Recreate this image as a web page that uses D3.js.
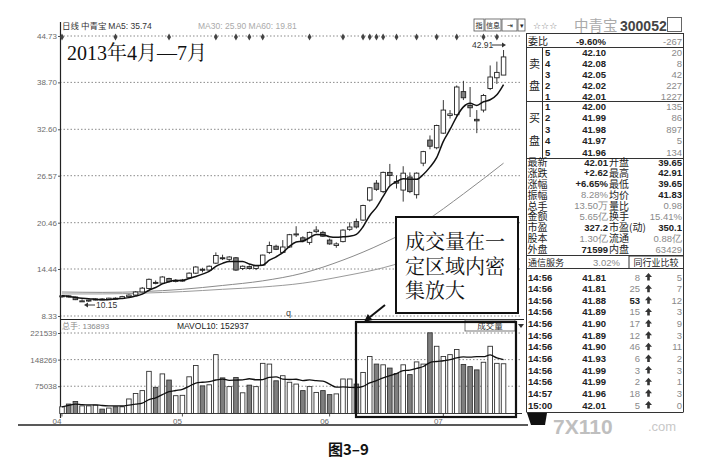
<!DOCTYPE html>
<html>
<head>
<meta charset="utf-8">
<script src="https://cdn.jsdelivr.net/npm/d3@7"></script>
<style>
  body { margin: 0; background: #fff; }
  svg { display: block; }
</style>
</head>
<body>
<div id="chart"></div>
<script>
// daily K-line, 300052 中青宝, Apr-Jul 2013
const opens  = [10.85,10.95,10.80,10.25,10.30,10.40,10.55,10.45,10.65,10.60,10.85,11.05,11.45,11.90,12.70,12.60,13.20,12.85,12.95,13.30,
                13.90,14.40,14.30,15.20,15.90,15.70,15.90,14.50,14.75,14.50,14.95,16.60,17.40,16.60,17.30,18.90,18.50,17.90,19.30,19.20,
                18.20,17.50,18.00,19.60,20.60,20.80,23.40,25.60,24.50,27.00,25.80,24.70,26.40,24.10,28.20,31.20,30.20,32.10,34.40,34.50,
                37.50,35.70,33.90,35.10,37.90,39.30,39.65];
const highs  = [11.05,11.00,10.85,10.50,10.45,10.60,10.65,10.70,10.75,10.95,11.15,11.55,12.10,13.20,12.95,13.50,13.30,13.10,13.15,14.00,
                14.80,14.60,14.90,16.60,16.30,16.10,16.00,14.90,14.90,14.95,16.30,18.00,17.60,18.20,19.00,20.00,18.70,19.30,20.00,19.40,
                18.40,17.90,19.60,20.50,21.00,22.80,25.10,26.00,27.10,28.10,26.60,27.80,27.00,27.00,29.80,31.80,33.20,36.40,35.10,38.30,
                38.90,38.10,35.10,37.20,40.90,41.40,42.91];
const lows   = [10.70,10.75,10.40,10.20,10.15,10.35,10.40,10.40,10.50,10.55,10.80,11.00,11.40,11.85,12.45,12.50,12.70,12.70,12.80,13.20,
                13.80,14.00,14.20,15.10,15.60,15.40,14.20,14.30,14.40,14.30,14.90,16.40,16.90,16.50,17.20,18.60,17.90,17.60,19.10,18.60,
                17.60,17.20,17.90,19.40,19.70,20.70,23.20,24.60,24.30,25.30,24.90,23.20,24.30,23.60,27.80,30.00,30.00,32.00,34.00,34.30,
                36.40,34.20,32.10,34.80,37.70,38.50,39.65];
const closes = [10.95,10.80,10.45,10.30,10.40,10.55,10.45,10.65,10.60,10.85,11.05,11.45,11.95,13.10,12.60,13.40,12.80,12.95,13.00,13.90,
                14.70,14.30,14.80,16.20,15.85,16.00,14.30,14.80,14.50,14.85,16.25,17.50,17.00,17.30,18.90,19.00,18.10,19.20,19.50,18.70,
                17.70,17.70,19.50,19.90,19.90,22.70,25.00,24.80,27.00,26.60,25.60,26.90,24.50,26.90,29.70,30.40,33.10,35.10,34.60,38.10,
                36.70,35.40,33.70,37.00,39.40,40.00,42.01];
const volumes = [18500,26000,33000,21000,21000,23000,12000,15000,18500,18500,40000,55000,63000,116000,72000,109000,92000,49000,50000,101000,
                 132000,76000,79000,162000,98000,74000,99000,57000,78000,74000,138000,136000,90000,104000,86000,81000,63000,74000,58000,63000,
                 52000,54000,95000,95000,81000,113000,157000,136000,134000,125000,110000,134000,107000,142000,136000,222000,185000,157000,162000,176000,
                 135000,129000,120000,141000,185000,138000,136900];

// MA30 / MA60 read at every sixth day
const maIdx  = [0, 6, 12, 18, 24, 30, 36, 42, 48, 54, 60, 66];
const ma30   = [11.45, 11.40, 11.50, 11.80, 12.30, 12.90, 13.90, 15.60, 17.80, 20.50, 24.20, 28.20];
const ma60   = [11.20, 11.20, 11.30, 11.50, 11.80, 12.10, 12.60, 13.50, 14.60, 16.20, 18.10, 20.20];

const markIdx = [0, 8, 16, 23, 26, 28, 30, 37, 42, 45, 46, 47, 48, 50, 53, 56, 59, 63, 65];
const monthIdx = [0, 18, 40, 57];
const monthLabels = ["04", "05", "06", "07"];
const priceTicks = [44.73, 38.70, 32.60, 26.57, 20.46, 14.44, 8.33];
const volTicks = [221539, 148269, 75038];

// quote panel
const sellLevels = ["5", "4", "3", "2", "1"];
const sellPrices = ["42.10", "42.08", "42.05", "42.02", "42.01"];
const sellVols = ["20", "8", "42", "227", "1227"];
const buyLevels = ["1", "2", "3", "4", "5"];
const buyPrices = ["42.00", "41.99", "41.98", "41.97", "41.96"];
const buyVols = ["135", "86", "897", "5", "134"];
const statLabels1 = ["最新", "涨跌", "涨幅", "振幅", "总手", "金额", "市盈", "股本", "外盘"];
const statValues1 = ["42.01", "+2.62", "+6.65%", "8.28%", "13.50万", "5.65亿", "327.2", "1.30亿", "71599"];
const statLabels2 = ["开盘", "最高", "最低", "均价", "量比", "换手", "市盈(动)", "流通", "内盘"];
const statValues2 = ["39.65", "42.91", "39.65", "41.83", "0.98", "15.41%", "350.1", "0.88亿", "63429"];
const statLight1 = [false, false, false, true, true, true, false, true, false];
const statLight2 = [false, false, false, false, true, true, false, true, true];
const tradeTimes = ["14:56","14:56","14:56","14:56","14:56","14:56","14:56","14:56","14:56","14:56","14:57","15:00"];
const tradePrices = ["41.81","41.81","41.88","41.89","41.90","41.89","41.90","41.93","41.99","41.99","41.96","42.01"];
const tradeVols = ["8","25","53","15","17","12","46","6","3","2","18","5"];
const tradeCounts = ["5","7","12","3","9","3","11","2","3","1","3","0"];

const W = 727, H = 466;
const SANS = "'Liberation Sans', Arial, sans-serif";
const CJK = "'Noto Sans CJK SC', 'Noto Sans', sans-serif";

const svg = d3.select("#chart").append("svg")
  .attr("width", W).attr("height", H)
  .style("font-family", SANS);

const n = closes.length;
const days = d3.range(n);
const x = d3.scaleBand().domain(days).range([58.65, 506.9]).paddingInner(0.32).paddingOuter(0.16);
const cx = i => x(i) + x.bandwidth() / 2;
const y = d3.scaleLinear().domain([8.33, 44.73]).range([316, 36]);
const yv = d3.scaleLinear().domain([0, 221539]).range([413.5, 333]);

// ---------- grid ----------
svg.append("g").selectAll("line").data(priceTicks).join("line")
  .attr("x1", 60).attr("x2", 522)
  .attr("y1", d => y(d)).attr("y2", d => y(d))
  .attr("stroke", "#8a8a8a").attr("stroke-dasharray", "1.5,2");
svg.append("g").selectAll("line").data(volTicks).join("line")
  .attr("x1", 60).attr("x2", 522)
  .attr("y1", d => yv(d)).attr("y2", d => yv(d))
  .attr("stroke", "#8a8a8a").attr("stroke-dasharray", "1.5,2");

// ---------- axes ----------
function styleAxis(g) {
  g.attr("font-family", SANS).attr("font-size", 8);
  g.select(".domain").remove();
  g.selectAll(".tick line").attr("stroke", "#555");
  g.selectAll(".tick text").attr("fill", "#6a6a6a");
}
svg.append("g").attr("transform", "translate(60,0)")
  .call(d3.axisLeft(y).tickValues(priceTicks).tickFormat(d3.format(".2f")).tickSize(2).tickPadding(1))
  .call(styleAxis);
svg.append("g").attr("transform", "translate(60,0)")
  .call(d3.axisLeft(yv).tickValues(volTicks).tickFormat(d3.format("d")).tickSize(2).tickPadding(1))
  .call(styleAxis);
svg.append("g").attr("transform", "translate(0,413.5)")
  .call(d3.axisBottom(x).tickValues(monthIdx).tickFormat((d, i) => monthLabels[i]).tickSize(3).tickPadding(2))
  .call(styleAxis)
  .call(g => g.selectAll(".tick text").attr("x", -5));

svg.append("line").attr("x1", 60.5).attr("x2", 60.5).attr("y1", 22).attr("y2", 418)
  .attr("stroke", "#222").attr("stroke-width", 1.2);
svg.append("line").attr("x1", 60).attr("x2", 524).attr("y1", 319.5).attr("y2", 319.5)
  .attr("stroke", "#222").attr("stroke-width", 1.2);
svg.append("line").attr("x1", 60).attr("x2", 522).attr("y1", 413.5).attr("y2", 413.5)
  .attr("stroke", "#333");
svg.append("line").attr("x1", 18).attr("x2", 528).attr("y1", 425).attr("y2", 425)
  .attr("stroke", "#222").attr("stroke-width", 1.6);

// ---------- header texts ----------
svg.append("text").attr("x", 62).attr("y", 29).attr("font-size", 8.5).attr("fill", "#333")
  .call(t => {
    t.append("tspan").attr("font-family", CJK).text("日线  中青宝 ");
    t.append("tspan").text("MA5: 35.74");
  });
svg.append("text").attr("x", 198).attr("y", 29).attr("font-size", 8.5).attr("fill", "#aaa")
  .text("MA30: 25.90  MA60: 19.81");

// info markers
svg.append("g").selectAll("path").data(markIdx).join("path")
  .attr("transform", i => `translate(${cx(i)},37)`)
  .attr("d", d3.symbol(d3.symbolDiamond).size(14))
  .attr("fill", "#444");

svg.append("text").attr("x", 67).attr("y", 60)
  .attr("font-family", "'Liberation Serif', 'Noto Serif CJK SC', 'Noto Sans CJK SC', serif")
  .attr("font-size", 20).attr("fill", "#111")
  .text("2013年4月—7月");

// ---------- moving averages (price) ----------
const maLine = d3.line().curve(d3.curveMonotoneX);
svg.append("path")
  .attr("d", maLine(maIdx.map((d, k) => [cx(d), y(ma60[k])])))
  .attr("fill", "none").attr("stroke", "#9a9a9a").attr("stroke-width", 1);
svg.append("path")
  .attr("d", maLine(maIdx.map((d, k) => [cx(d), y(ma30[k])])))
  .attr("fill", "none").attr("stroke", "#8a8a8a").attr("stroke-width", 1);

// ---------- candles ----------
const gK = svg.append("g");
gK.selectAll("line").data(days).join("line")
  .attr("x1", cx).attr("x2", cx)
  .attr("y1", i => y(highs[i])).attr("y2", i => y(lows[i]))
  .attr("stroke", "#222").attr("stroke-width", 0.9);
gK.selectAll("rect").data(days).join("rect")
  .attr("x", i => x(i)).attr("width", x.bandwidth())
  .attr("y", i => y(Math.max(opens[i], closes[i])))
  .attr("height", i => Math.max(1, Math.abs(y(opens[i]) - y(closes[i]))))
  .attr("fill", i => closes[i] >= opens[i] ? "#fff" : "#7e7e7e")
  .attr("stroke", "#222").attr("stroke-width", 0.9);

const ma5 = days.map(i => d3.mean(closes.slice(Math.max(0, i - 4), i + 1)));
svg.append("path")
  .attr("d", d3.line().x((d, i) => cx(i)).y(d => y(d)).curve(d3.curveMonotoneX)(ma5))
  .attr("fill", "none").attr("stroke", "#111").attr("stroke-width", 1.5);

// high / low labels
svg.append("text").attr("x", 472).attr("y", 48).attr("font-size", 8.5).attr("fill", "#333").text("42.91");
svg.append("path").attr("d", "M492,45H502").attr("stroke", "#333");
svg.append("path").attr("d", "M502,42.5L506,45L502,47.5Z").attr("fill", "#333");
svg.append("path").attr("d", "M86,305H95").attr("stroke", "#333");
svg.append("path").attr("d", "M84,305L88,302.5L88,307.5Z").attr("fill", "#333");
svg.append("text").attr("x", 96).attr("y", 308).attr("font-size", 8.5).attr("fill", "#333").text("10.15");
svg.append("text").attr("x", 286).attr("y", 316).attr("font-size", 9).attr("fill", "#444").text("q");

// ---------- volume ----------
svg.append("text").attr("x", 62).attr("y", 329).attr("font-size", 8).attr("fill", "#888")
  .call(t => {
    t.append("tspan").attr("font-family", CJK).text("总手");
    t.append("tspan").text(": 136893");
  });
svg.append("text").attr("x", 177).attr("y", 329).attr("font-size", 8.5).attr("fill", "#222")
  .text("MAVOL10: 152937");

svg.append("g").selectAll("rect").data(days).join("rect")
  .attr("x", i => x(i)).attr("width", x.bandwidth())
  .attr("y", i => yv(volumes[i]))
  .attr("height", i => yv(0) - yv(volumes[i]))
  .attr("fill", i => closes[i] >= opens[i] ? "#fff" : "#7e7e7e")
  .attr("stroke", "#333").attr("stroke-width", 0.9);

const mavol = days.map(i => d3.mean(volumes.slice(Math.max(0, i - 9), i + 1)));
svg.append("path")
  .attr("d", d3.line().x((d, i) => cx(i)).y(d => yv(d)).curve(d3.curveMonotoneX)(mavol))
  .attr("fill", "none").attr("stroke", "#111").attr("stroke-width", 1.3);

svg.append("rect").attr("x", 465).attr("y", 320).attr("width", 50).attr("height", 11)
  .attr("fill", "#fff").attr("stroke", "#555").attr("stroke-width", 0.8);
svg.append("text").attr("x", 490).attr("y", 329).attr("text-anchor", "middle")
  .attr("font-family", CJK).attr("font-size", 8.5).attr("fill", "#333").text("成交量");
svg.append("path").attr("d", "M518,324L524,324L521,328Z").attr("fill", "#333");

// ---------- annotation ----------
svg.append("rect").attr("x", 356).attr("y", 322).attr("width", 160).attr("height", 95)
  .attr("fill", "none").attr("stroke", "#111").attr("stroke-width", 2.2);
svg.append("line").attr("x1", 385).attr("y1", 305).attr("x2", 370).attr("y2", 317)
  .attr("stroke", "#111").attr("stroke-width", 2);
svg.append("path").attr("d", "M364,322L372.6,319.9L367.8,314.1Z").attr("fill", "#111");

svg.append("rect").attr("x", 396).attr("y", 217).attr("width", 122).attr("height", 96)
  .attr("fill", "#fff").attr("stroke", "#111").attr("stroke-width", 2);
const noteLines = ["成交量在一", "定区域内密", "集放大"];
svg.append("g").selectAll("text").data(noteLines).join("text")
  .attr("x", 405).attr("y", (d, i) => 249 + i * 24.5)
  .attr("font-family", "'Noto Serif CJK SC', 'Noto Sans CJK SC', serif")
  .attr("font-size", 20).attr("fill", "#111")
  .text(d => d);

// ---------- quote panel ----------
const P0 = 526.5, P1 = 683.5;
const panel = svg.append("g");
const hLine = (yy, x1 = P0, x2 = P1) => panel.append("line")
  .attr("x1", x1).attr("x2", x2).attr("y1", yy).attr("y2", yy).attr("stroke", "#333");
const vLine = (xx, y1, y2) => panel.append("line")
  .attr("x1", xx).attr("x2", xx).attr("y1", y1).attr("y2", y2).attr("stroke", "#333");
vLine(P0, 33, 412); vLine(P1, 33, 412);
[33.5, 47.5, 101.5, 158.5, 255.5, 268.5, 412.5].forEach(v => hLine(v));
vLine(542.5, 47.5, 158.5);

// top buttons & title
const btns = [[474, 10, "指"], [485, 16, "信息"], [502, 15, "⇥"], [518, 7, "▾"]];
btns.forEach(b => {
  panel.append("rect").attr("x", b[0]).attr("y", 19).attr("width", b[1]).attr("height", 12)
    .attr("fill", "#fff").attr("stroke", "#555").attr("stroke-width", 0.8);
  panel.append("text").attr("x", b[0] + b[1] / 2).attr("y", 28).attr("text-anchor", "middle")
    .attr("font-family", CJK).attr("font-size", 7).attr("fill", "#222").text(b[2]);
});
panel.append("text").attr("x", 533).attr("y", 29).attr("font-family", "'DejaVu Sans', sans-serif")
  .attr("font-size", 9).attr("fill", "#777").text("☆☆☆");
panel.append("text").attr("x", 574).attr("y", 30.5).attr("font-family", CJK)
  .attr("font-size", 14.5).attr("fill", "#aaa").text("中青宝");
panel.append("text").attr("x", 620).attr("y", 30.5).attr("font-size", 14).attr("font-weight", "bold")
  .attr("fill", "#444").text("300052");
panel.append("rect").attr("x", 667.5).attr("y", 17.5).attr("width", 14).attr("height", 14)
  .attr("fill", "#fff").attr("stroke", "#666");

const num = (xx, yy, s, light, anchor = "end") => panel.append("text")
  .attr("x", xx).attr("y", yy).attr("text-anchor", anchor)
  .attr("font-size", 9.5).attr("font-weight", light ? "normal" : "bold")
  .attr("fill", light ? "#8a8a8a" : "#222").text(s);
const cjk = (xx, yy, s, size = 9) => panel.append("text")
  .attr("x", xx).attr("y", yy).attr("font-family", CJK)
  .attr("font-size", size).attr("fill", "#222").text(s);
// one <text> per column, one <tspan> per row
const cjkColumn = (xx, labels, rowY, size) => panel.append("text")
  .attr("font-family", CJK).attr("font-size", size).attr("fill", "#222")
  .selectAll("tspan").data(labels).join("tspan")
  .attr("x", xx).attr("y", (d, k) => rowY(k)).text(d => d);

cjk(528, 45, "委比", 10);
num(606, 45, "-9.60%", false);
num(682, 45, "-267", true);

const sellRow = d3.scaleLinear().domain([0, 4]).range([55.5, 99.5]);
sellLevels.forEach((d, k) => {
  num(545, sellRow(k), d, false, "start");
  num(606, sellRow(k), sellPrices[k], false);
  num(682, sellRow(k), sellVols[k], true);
});
cjk(529, 68, "卖", 11); cjk(529, 90, "盘", 11);

const buyRow = d3.scaleLinear().domain([0, 4]).range([109.5, 155.5]);
buyLevels.forEach((d, k) => {
  num(545, buyRow(k), d, false, "start");
  num(606, buyRow(k), buyPrices[k], false);
  num(682, buyRow(k), buyVols[k], true);
});
cjk(529, 122, "买", 11); cjk(529, 145, "盘", 11);

const statRow = d3.scaleLinear().domain([0, 8]).range([166, 253]);
cjkColumn(527.5, statLabels1, statRow, 10);
cjkColumn(609, statLabels2, statRow, 10);
statValues1.forEach((d, k) => {
  num(608, statRow(k) - 0.5, d, statLight1[k]);
  num(682, statRow(k) - 0.5, statValues2[k], statLight2[k]);
});

cjk(528, 265.5, "通信服务", 9);
num(620, 265.5, "3.02%", true);
panel.append("rect").attr("x", 629).attr("y", 256).attr("width", 54.5).attr("height", 12.5)
  .attr("fill", "#fff").attr("stroke", "#333");
panel.append("text").attr("x", 656).attr("y", 265.5).attr("text-anchor", "middle")
  .attr("font-family", CJK).attr("font-size", 9).attr("fill", "#222").text("同行业比较");

const tradeRow = d3.scaleLinear().domain([0, 11]).range([280.5, 408.5]);
tradeTimes.forEach((d, k) => {
  const yy = tradeRow(k);
  num(528, yy, d, false, "start");
  num(606, yy, tradePrices[k], false);
  num(640, yy, tradeVols[k], k !== 2);
  const ax = 648.5, ay = yy - 3.5;
  panel.append("path")
    .attr("d", `M${ax},${ay - 4}L${ax + 3.5},${ay}L${ax + 1.3},${ay}L${ax + 1.3},${ay + 3.5}L${ax - 1.3},${ay + 3.5}L${ax - 1.3},${ay}L${ax - 3.5},${ay}Z`)
    .attr("fill", "#333");
  num(682, yy, tradeCounts[k], true);
});

// bottom strip / watermark
svg.append("path").attr("d", "M527,413L547,413L545,425L531,425Z").attr("fill", "#111");
svg.append("text").attr("x", 553).attr("y", 434).attr("font-size", 21).attr("font-weight", "bold")
  .attr("fill", "#b5b5b5").attr("opacity", 0.85).text("7X110");
svg.append("text").attr("x", 648).attr("y", 431).attr("font-size", 13)
  .attr("fill", "#c8c8c8").text(".com");

// caption
svg.append("text").attr("x", 328).attr("y", 455).attr("font-family", CJK)
  .attr("font-size", 15).attr("font-weight", "bold").attr("fill", "#111").text("图3–9");
</script>
</body>
</html>
